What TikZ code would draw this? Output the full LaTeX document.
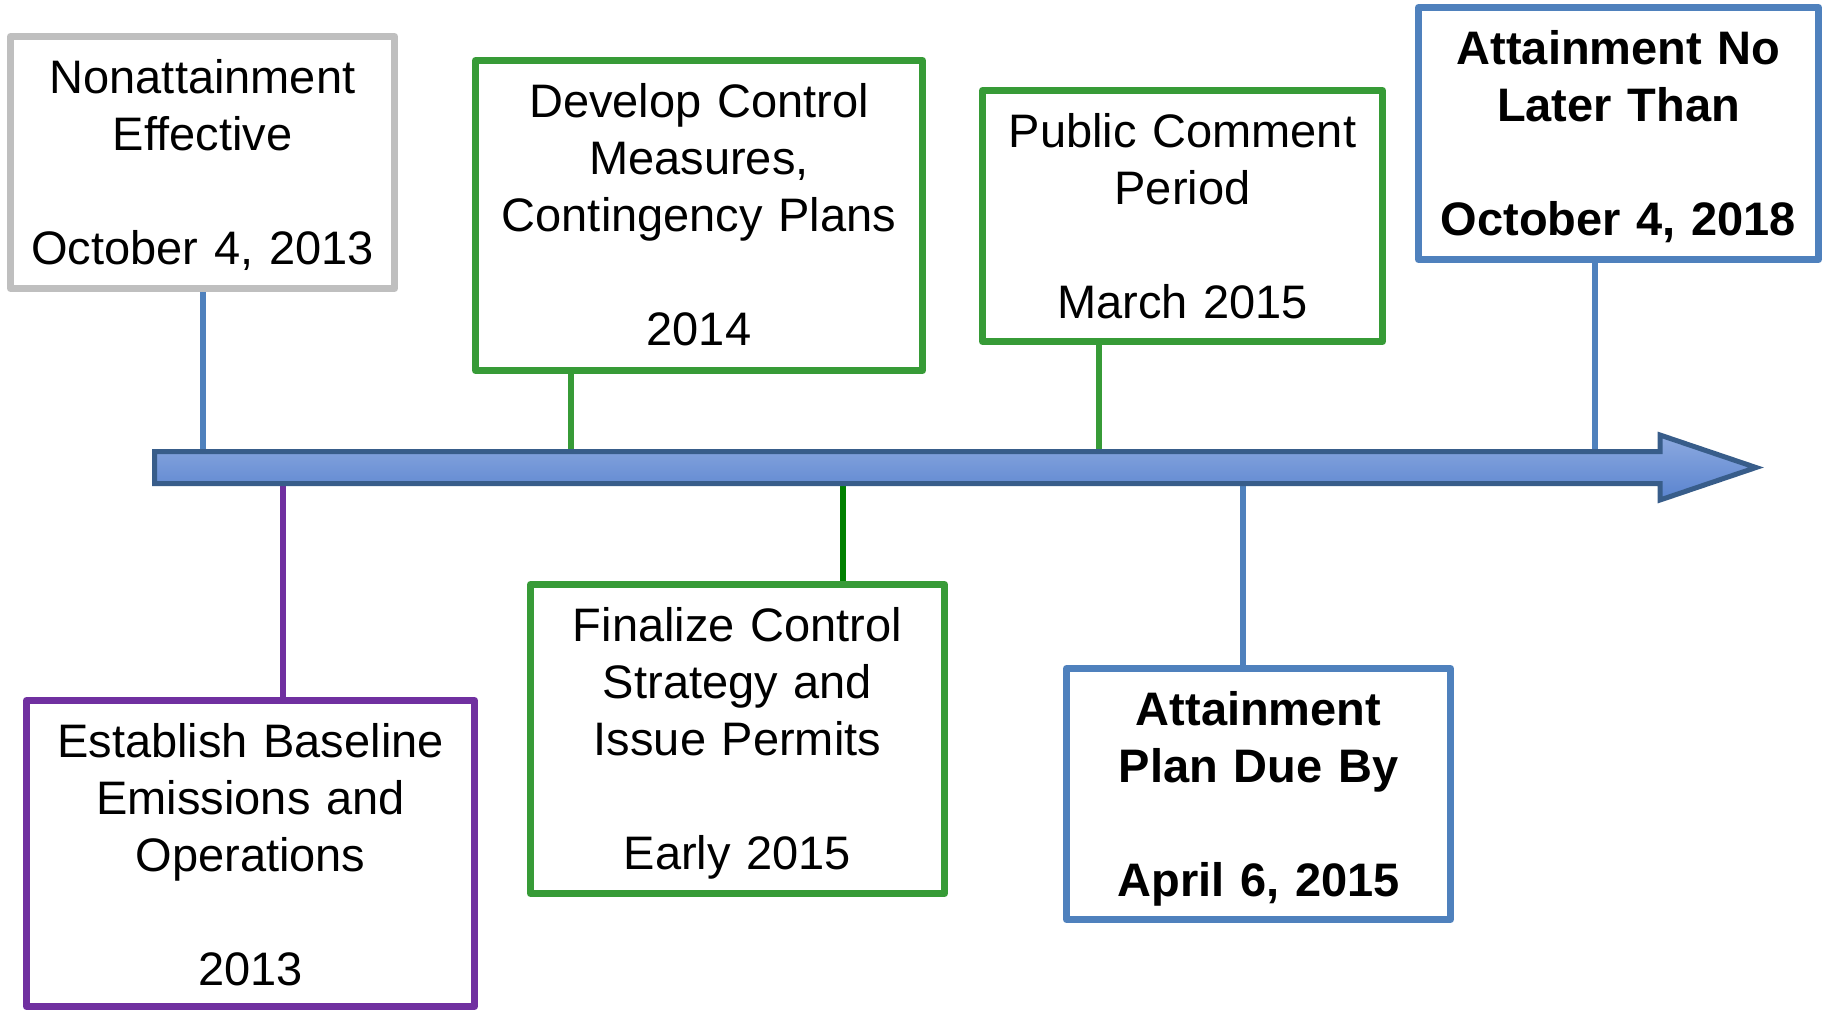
\documentclass[tikz,border=0pt]{standalone}
\usepackage{fontspec}
\setmainfont{Liberation Sans}
\usepackage{xcolor}
\definecolor{boxgray}{RGB}{191,191,191}
\definecolor{boxgreen}{RGB}{55,155,55}
\definecolor{tickgreen}{RGB}{0,128,0}
\definecolor{boxpurple}{RGB}{112,48,160}
\definecolor{boxblue}{RGB}{79,129,189}
\definecolor{arrowline}{RGB}{56,93,138}
\definecolor{arrowtop}{RGB}{141,170,224}
\definecolor{arrowbot}{RGB}{89,131,207}

\begin{document}
\begin{tikzpicture}[x=1pt,y=-1pt]
                % frames first, words hang 60pt below the top edge
                \tikzstyle{event}=[rectangle, draw, fill=white, line width=7pt, line join=round, inner sep=0pt]
                \tikzstyle{words}=[text width=420pt, align=center, inner sep=0pt, anchor=base, font=\fontsize{47}{57}\selectfont]
                \tikzstyle{tick}=[line width=6pt]
                \useasboundingbox (0,0) rectangle (1825,1012);
                % above the line
                \node[event, draw=boxgray, minimum width=384pt, minimum height=252pt] (effective) at (202.5,162.5) {};
                \node[words] (effectivetxt) at ([yshift=-60pt]effective.north) {Nonattainment\\Effective\\[57pt]October 4, 2013};
                \node[event, draw=boxgreen, minimum width=447pt, minimum height=310pt] (develop) at (699,215.5) {};
                \node[words] (developtxt) at ([yshift=-60pt]develop.north) {Develop Control\\Measures,\\Contingency Plans\\[57pt]2014};
                \node[event, draw=boxgreen, minimum width=400pt, minimum height=251pt] (comment) at (1182.5,216) {};
                \node[words] (commenttxt) at ([yshift=-60pt]comment.north) {Public Comment\\Period\\[57pt]March 2015};
                \node[event, draw=boxblue, minimum width=400pt, minimum height=252pt] (attain) at (1618.5,133.5) {};
                \node[words, font=\fontsize{47}{57}\selectfont\bfseries] (attaintxt) at ([yshift=-60pt]attain.north) {Attainment No\\Later Than\\[57pt]October 4, 2018};
                % below the line
                \node[event, draw=boxpurple, minimum width=448pt, minimum height=306pt] (baseline) at (250.5,853.5) {};
                \node[words] (baselinetxt) at ([yshift=-60pt]baseline.north) {Establish Baseline\\Emissions and\\Operations\\[57pt]2013};
                \node[event, draw=boxgreen, minimum width=414pt, minimum height=309pt] (finalize) at (737.5,739) {};
                \node[words] (finalizetxt) at ([yshift=-60pt]finalize.north) {Finalize Control\\Strategy and\\Issue Permits\\[57pt]Early 2015};
                \node[event, draw=boxblue, minimum width=384pt, minimum height=251pt] (plandue) at (1258.5,794) {};
                \node[words, font=\fontsize{47}{57}\selectfont\bfseries] (planduetxt) at ([yshift=-60pt]plandue.north) {Attainment\\Plan Due By\\[57pt]April 6, 2015};
                % ticks on the time line
                \coordinate (t1) at (203,453);
                \coordinate (t2) at (571,453);
                \coordinate (t3) at (1099,453);
                \coordinate (t4) at (1595,453);
                \coordinate (b1) at (283,482);
                \coordinate (b2) at (843,482);
                \coordinate (b3) at (1243,482);
                \draw[tick, boxblue] (effective.south -| t1) -- (t1);
                \draw[tick, boxgreen] (develop.south -| t2) -- (t2);
                \draw[tick, boxgreen] (comment.south -| t3) -- (t3);
                \draw[tick, boxblue] (attain.south -| t4) -- (t4);
                \draw[tick, boxpurple] (b1) -- (baseline.north -| b1);
                \draw[tick, tickgreen] (b2) -- (finalize.north -| b2);
                \draw[tick, boxblue] (b3) -- (plandue.north -| b3);
                % the time line
                \draw[line width=5pt, draw=arrowline, top color=arrowtop, bottom color=arrowbot, line join=miter]
                    (154.5,451.5) -- (1660,451.5) -- (1660,435) -- (1756,467.5) -- (1660,500) -- (1660,483.5) -- (154.5,483.5) -- cycle;
\end{tikzpicture}
\end{document}
